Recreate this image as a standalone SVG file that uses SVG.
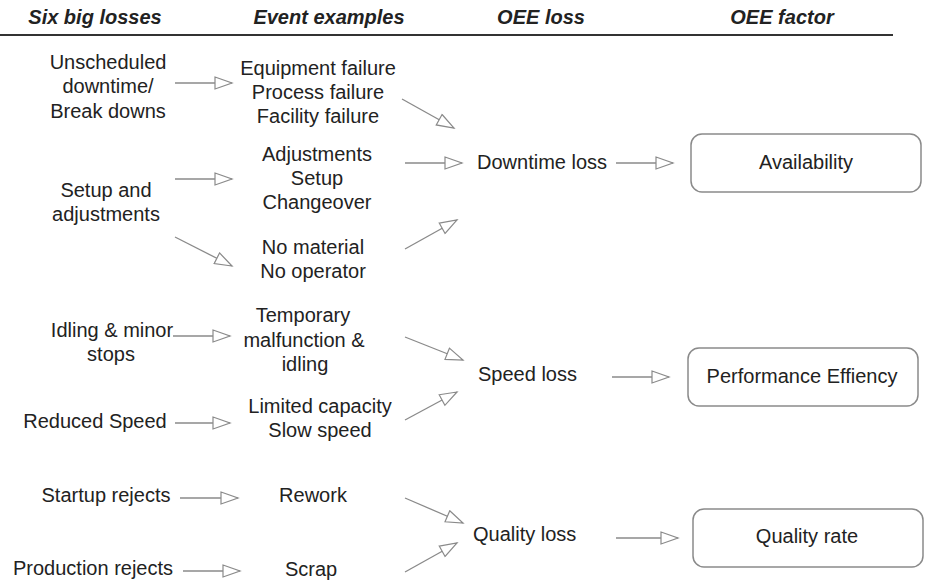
<svg xmlns="http://www.w3.org/2000/svg" width="925" height="582" viewBox="0 0 925 582">
<defs>
<style>
text{font-family:"Liberation Sans",Arial,sans-serif;font-size:20px;fill:#222;text-anchor:middle}
.hd{font-weight:bold;font-style:italic}
.st{text-anchor:start}
.c line{stroke:#8a8a8a;stroke-width:1.3;marker-end:url(#ah)}
.box{fill:#fff;stroke:#8a8a8a;stroke-width:1.5}
</style>
<marker id="ah" markerUnits="userSpaceOnUse" markerWidth="20" markerHeight="14" refX="17" refY="6" orient="auto" viewBox="-1 -1 20 14">
<path d="M0,0 L17,6 L0,12 Z" fill="#fff" stroke="#8a8a8a" stroke-width="1.2"/>
</marker>
</defs>
<rect width="925" height="582" fill="#fff"/>
<g id="header">
<text class="hd" x="95" y="24">Six big losses</text>
<text class="hd" x="329" y="24">Event examples</text>
<text class="hd" x="541" y="24">OEE loss</text>
<text class="hd" x="782" y="24">OEE factor</text>
<line x1="0" y1="35" x2="893" y2="35" stroke="#333" stroke-width="2"/>
</g>
<g id="n-unscheduled"><text x="108" y="69">Unscheduled</text><text x="108" y="93">downtime/</text><text x="108" y="118">Break downs</text></g>
<g id="n-setup"><text x="106" y="197">Setup and</text><text x="106" y="221">adjustments</text></g>
<g id="n-idling"><text x="112" y="337">Idling &amp; minor</text><text x="111" y="361">stops</text></g>
<g id="n-reduced"><text x="95" y="428">Reduced Speed</text></g>
<g id="n-startup"><text x="106" y="502">Startup rejects</text></g>
<g id="n-production"><text x="93" y="575">Production rejects</text></g>
<g id="n-failure"><text x="318" y="75">Equipment failure</text><text x="318" y="99">Process failure</text><text x="318" y="123">Facility failure</text></g>
<g id="n-adjust"><text x="317" y="161">Adjustments</text><text x="317" y="185">Setup</text><text x="317" y="209">Changeover</text></g>
<g id="n-nomat"><text x="313" y="254">No material</text><text x="313" y="278">No operator</text></g>
<g id="n-temp"><text x="303" y="322">Temporary</text><text x="304" y="347">malfunction &amp;</text><text x="305" y="371">idling</text></g>
<g id="n-limited"><text x="320" y="413">Limited capacity</text><text x="320" y="437">Slow speed</text></g>
<g id="n-rework"><text x="313" y="502">Rework</text></g>
<g id="n-scrap"><text x="311" y="576">Scrap</text></g>
<g id="n-downtime"><text class="st" x="477" y="169">Downtime loss</text></g>
<g id="n-speed"><text class="st" x="478" y="381">Speed loss</text></g>
<g id="n-quality"><text class="st" x="473" y="541">Quality loss</text></g>
<g id="n-availability"><rect class="box" x="691" y="134" width="230" height="58" rx="11"/><text x="806" y="169">Availability</text></g>
<g id="n-performance"><rect class="box" x="688" y="348" width="230" height="58" rx="11"/><text x="802" y="383">Performance Effiency</text></g>
<g id="n-qrate"><rect class="box" x="693" y="509" width="230" height="58" rx="11"/><text x="807" y="543">Quality rate</text></g>
<g id="connectors" class="c">
<line x1="175" y1="83" x2="232" y2="83"/>
<line x1="402" y1="99" x2="454" y2="128"/>
<line x1="405" y1="163" x2="462" y2="163"/>
<line x1="175" y1="179" x2="232" y2="179"/>
<line x1="175" y1="237" x2="232" y2="266"/>
<line x1="405" y1="249" x2="457" y2="220"/>
<line x1="616" y1="163" x2="673" y2="163"/>
<line x1="173" y1="336" x2="230" y2="336"/>
<line x1="405" y1="337" x2="463" y2="360"/>
<line x1="175" y1="423" x2="230" y2="423"/>
<line x1="405" y1="420" x2="457" y2="392"/>
<line x1="612" y1="377" x2="669" y2="377"/>
<line x1="180" y1="498" x2="238" y2="498"/>
<line x1="183" y1="571" x2="240" y2="571"/>
<line x1="405" y1="498" x2="463" y2="523"/>
<line x1="405" y1="572" x2="457" y2="543"/>
<line x1="616" y1="538" x2="678" y2="538"/>
</g>
</svg>
